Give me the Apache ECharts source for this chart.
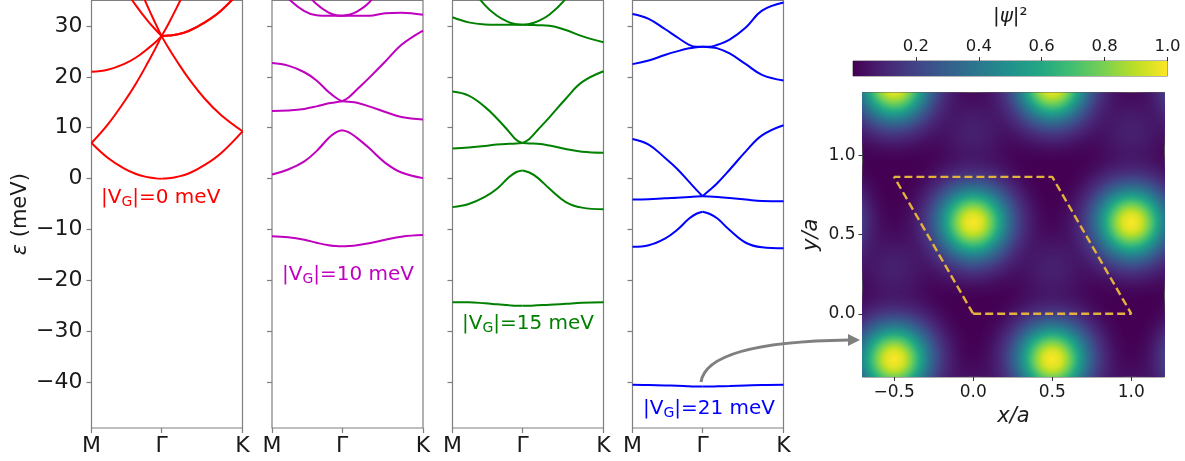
<!DOCTYPE html>
<html>
<head>
<meta charset="utf-8">
<script src="https://cdn.jsdelivr.net/npm/echarts@6/dist/echarts.min.js"></script>
<style>
  html, body { margin: 0; padding: 0; background: #ffffff; }
  #chart { width: 1185px; height: 461px; }
</style>
</head>
<body>
<div id="chart"></div>
<script>
// ---- band structure along M–Γ–K (|ΓK| = 1, |ΓM| = √3/2) ----
const kPath = [0, 0.2, 0.4, 0.55, 0.7, 0.79, 0.866, 0.95, 1.05, 1.2, 1.4, 1.6, 1.866];
const gammaIndex = 6;
const kTicks = [0, 0.866, 1.866];
const kTickLabels = ['M', 'Γ', 'K'];
const energyTicks = [-40, -30, -20, -10, 0, 10, 20, 30];
const energyRange = [-49, 35];

// energies in meV, one row per band, sampled on kPath
const bandsV0 = [
  [7.0, 4.1, 2.0, 0.9, 0.26, 0.05, 0, 0.07, 0.32, 1.0, 2.7, 5.0, 9.3],
  [7.0, 10.6, 15.0, 18.7, 22.9, 25.6, 28.0, 25.7, 23.2, 19.7, 15.7, 12.5, 9.3],
  [21.0, 21.4, 22.5, 23.8, 25.6, 26.8, 28.0, 28.1, 28.3, 29.0, 30.7, 33.0, 37.3],
  [49.0, 42.9, 37.5, 34.0, 30.9, 29.3, 28.0, 30.4, 33.5, 38.4, 45.6, 56.0, 65.3],
  [63.0, 53.7, 45.1, 39.1, 33.6, 30.5, 28.0, 28.1, 28.3, 29.0, 30.7, 33.0, 37.3]
];
const bandsV10 = [
  [-11.3, -11.5, -12.0, -12.6, -13.1, -13.25, -13.3, -13.25, -13.1, -12.7, -12.0, -11.4, -11.1],
  [0.8, 1.8, 3.4, 5.4, 8.0, 9.1, 9.5, 9.1, 8.0, 6.0, 3.1, 1.2, 0.1],
  [13.3, 13.4, 13.7, 14.2, 14.8, 15.0, 15.2, 15.1, 14.9, 14.2, 13.1, 12.1, 11.6],
  [22.7, 22.2, 20.9, 19.3, 17.0, 15.9, 15.2, 16.0, 17.5, 19.8, 23.0, 26.3, 29.1],
  [39.0, 35.4, 32.9, 32.1, 32.0, 32.0, 32.0, 32.0, 32.0, 32.0, 32.5, 32.6, 32.2],
  [49.0, 42.2, 37.0, 34.3, 32.6, 32.1, 32.0, 32.2, 32.8, 34.6, 38.6, 44.4, 55.0]
];
const bandsV15 = [
  [-24.3, -24.3, -24.5, -24.7, -24.9, -25.0, -25.0, -25.0, -24.9, -24.8, -24.6, -24.4, -24.3],
  [-5.6, -5.0, -3.6, -2.0, 0.3, 1.3, 1.6, 1.2, 0.2, -2.0, -4.6, -5.7, -6.0],
  [5.9, 6.1, 6.4, 6.7, 6.85, 6.9, 7.0, 6.9, 6.85, 6.5, 5.8, 5.3, 5.1],
  [17.1, 16.3, 14.1, 11.8, 9.2, 7.6, 7.0, 7.8, 9.5, 12.1, 15.7, 18.95, 21.1],
  [31.7, 30.7, 30.3, 30.25, 30.25, 30.25, 30.25, 30.2, 30.15, 30.05, 29.2, 28.0, 26.8],
  [43.7, 38.2, 34.1, 32.0, 30.7, 30.35, 30.25, 30.4, 30.9, 32.25, 35.35, 39.9, 48.0]
];
const bandsV21 = [
  [-40.5, -40.55, -40.65, -40.7, -40.8, -40.85, -40.85, -40.85, -40.8, -40.75, -40.65, -40.55, -40.5],
  [-13.4, -13.1, -11.8, -10.1, -7.85, -6.9, -6.5, -6.9, -7.85, -10.1, -12.6, -13.5, -13.7],
  [-4.1, -4.05, -3.85, -3.75, -3.6, -3.5, -3.45, -3.5, -3.6, -3.8, -4.1, -4.4, -4.45],
  [7.8, 6.7, 4.1, 1.95, -0.65, -2.2, -3.45, -2.3, -0.85, 1.75, 5.35, 8.5, 10.5],
  [22.5, 23.2, 24.3, 25.0, 25.6, 25.8, 25.9, 25.8, 25.6, 24.6, 22.5, 20.4, 19.3],
  [32.35, 31.4, 29.4, 27.8, 26.3, 25.9, 25.9, 25.9, 26.3, 27.3, 29.7, 33.0, 34.6]
];
const panelBands = [bandsV0, bandsV10, bandsV15, bandsV21];
const potentialValues = ['0', '10', '15', '21'];

// ---- |ψ|² of the lowest state: density maxima [x/a, y/a, |ψ|²] ----
const sitePeaks = [
  [-1, 0.577, 1.0], [0, 0.577, 1.0], [1, 0.577, 1.0],
  [-0.5, -0.289, 1.0], [0.5, -0.289, 1.0], [1.5, -0.289, 1.0],
  [-0.5, 1.443, 1.0], [0.5, 1.443, 1.0], [1.5, 1.443, 1.0]
];
const hollowPeaks = [
  [-0.5, 0.289, 0.12], [0.5, 0.289, 0.12], [1.5, 0.289, 0.12],
  [-1, 1.155, 0.12], [0, 1.155, 0.12], [1, 1.155, 0.12],
  [0, -0.577, 0.12], [1, -0.577, 0.12]
];
const unitCell = [[0, 0], [1, 0], [0.5, 0.866], [-0.5, 0.866], [0, 0]];
const mapXRange = [-0.7, 1.21];
const mapYRange = [-0.4, 1.4];
const mapXTicks = [-0.5, 0, 0.5, 1.0];
const mapYTicks = [0, 0.5, 1.0];
const colorbarRange = [0, 1];
const colorbarTicks = [0.2, 0.4, 0.6, 0.8, 1.0];

// ---- styling ----
const FONT = 'DejaVu Sans';
const TEXT = '#1a1a1a';
const SPINE = '#7f7f7f';
const panelColors = ['#ff0000', '#bf00bf', '#008000', '#0000ff'];
const panelLefts = [91.5, 272, 452.5, 632.5];
const panelLabelPos = [[101, 188], [282, 265], [462, 314], [643, 399]];
const SITE_SIGMA = 0.16;
const HOLLOW_SIGMA = 0.15;

const viridisHex = ['#440154', '#482475', '#414487', '#355f8d', '#2a788e', '#21918c',
  '#22a884', '#44bf70', '#7ad151', '#bddf26', '#fde725'];
function hexRgb(h) {
  return [parseInt(h.slice(1, 3), 16), parseInt(h.slice(3, 5), 16), parseInt(h.slice(5, 7), 16)];
}
function viridis(v, alpha) {
  const t = Math.max(0, Math.min(1, v)) * 10;
  const i = Math.min(9, Math.floor(t));
  const f = t - i;
  const a = hexRgb(viridisHex[i]), b = hexRgb(viridisHex[i + 1]);
  const c = a.map((x, j) => Math.round(x + (b[j] - x) * f));
  return 'rgba(' + c[0] + ',' + c[1] + ',' + c[2] + ',' + (alpha == null ? 1 : alpha) + ')';
}
const gaussLevels = [1, 0.95, 0.9, 0.8, 0.7, 0.6, 0.5, 0.4, 0.3, 0.2, 0.15, 0.1, 0.06, 0.03, 0.011];
function levelOffset(lv) { return Math.min(1, Math.sqrt(-2 * Math.log(lv)) / 3); }
// opaque Gaussian bump over the dark background, drawn out to 3σ
function siteFill(peak) {
  const stops = gaussLevels.map(lv => {
    const v = peak * lv;
    return { offset: levelOffset(lv), color: viridis(v, Math.min(1, v / 0.04)) };
  });
  stops.push({ offset: 1, color: 'rgba(68,1,84,0)' });
  return new echarts.graphic.RadialGradient(0.5, 0.5, 0.5, stops);
}
// faint glow laid over the map: constant tint, Gaussian opacity
function hollowFill(peak) {
  const stops = gaussLevels.map(lv => ({ offset: levelOffset(lv), color: viridis(peak, 0.75 * lv) }));
  stops.push({ offset: 1, color: viridis(peak, 0) });
  return new echarts.graphic.RadialGradient(0.5, 0.5, 0.5, stops);
}
function minus(s) { return String(s).replace('-', '\u2212'); }

const grids = [], xAxes = [], yAxes = [], series = [];

panelBands.forEach((bands, p) => {
  grids.push({ left: panelLefts[p], top: 0.5, width: 151, height: 427.5, show: true,
    borderColor: SPINE, borderWidth: 1.2, backgroundColor: 'transparent' });
  xAxes.push({
    gridIndex: p, type: 'value', min: kPath[0], max: kPath[kPath.length - 1],
    axisLine: { show: false, onZero: false }, splitLine: { show: false },
    axisTick: { show: true, customValues: kTicks, length: 5, lineStyle: { color: SPINE, width: 1.2 } },
    axisLabel: {
      show: true, customValues: kTicks, margin: 7, fontSize: 22, fontFamily: FONT, color: TEXT,
      formatter: v => {
        let best = 0;
        kTicks.forEach((t, i) => { if (Math.abs(t - v) < Math.abs(kTicks[best] - v)) best = i; });
        return kTickLabels[best];
      }
    }
  });
  yAxes.push({
    gridIndex: p, type: 'value', min: energyRange[0], max: energyRange[1],
    axisLine: { show: false, onZero: false }, splitLine: { show: false },
    axisTick: { show: true, customValues: energyTicks, length: 5, lineStyle: { color: SPINE, width: 1.2 } },
    axisLabel: { show: p === 0, customValues: energyTicks, margin: 9, fontSize: 22,
      fontFamily: FONT, color: TEXT, formatter: v => minus(v) },
    name: p === 0 ? '{i|ε} (meV)' : '', nameLocation: 'middle', nameGap: 60,
    nameTextStyle: { fontSize: 21, fontFamily: FONT, color: TEXT,
      rich: { i: { fontSize: 21, fontFamily: FONT, fontStyle: 'italic', color: TEXT } } }
  });
  bands.forEach(band => {
    const halves = [
      kPath.slice(0, gammaIndex + 1).map((k, i) => [k, band[i]]),
      kPath.slice(gammaIndex).map((k, i) => [k, band[gammaIndex + i]])
    ];
    halves.forEach(data => series.push({
      type: 'line', xAxisIndex: p, yAxisIndex: p, data, smooth: 0.4,
      symbol: 'none', clip: true, silent: true,
      lineStyle: { color: panelColors[p], width: 2 }
    }));
  });
});

// density map panel
const MAP = 4;
grids.push({ left: 862.5, top: 92.5, width: 302, height: 284.5, show: true,
  backgroundColor: '#440154', borderColor: '#5a5a5a', borderWidth: 1 });
xAxes.push({
  gridIndex: MAP, type: 'value', min: mapXRange[0], max: mapXRange[1],
  axisLine: { show: false, onZero: false }, splitLine: { show: false },
  axisTick: { show: true, customValues: mapXTicks, length: 4, lineStyle: { color: '#333' } },
  axisLabel: { customValues: mapXTicks, margin: 7, fontSize: 17, fontFamily: FONT, color: TEXT,
    formatter: v => minus(v.toFixed(1)) },
  name: 'x/a', nameLocation: 'middle', nameGap: 29,
  nameTextStyle: { fontSize: 21, fontStyle: 'italic', fontFamily: FONT, color: TEXT }
});
yAxes.push({
  gridIndex: MAP, type: 'value', min: mapYRange[0], max: mapYRange[1],
  axisLine: { show: false, onZero: false }, splitLine: { show: false },
  axisTick: { show: true, customValues: mapYTicks, length: 4, lineStyle: { color: '#333' } },
  axisLabel: { customValues: mapYTicks, margin: 7, fontSize: 17, fontFamily: FONT, color: TEXT,
    formatter: v => minus(v.toFixed(1)) },
  name: 'y/a', nameLocation: 'middle', nameGap: 40,
  nameTextStyle: { fontSize: 21, fontStyle: 'italic', fontFamily: FONT, color: TEXT }
});
function bumpRenderer(sigma, fillFor) {
  return function (params, api) {
    const c = api.coord([api.value(0), api.value(1)]);
    const r = api.size([3 * sigma, 0])[0];
    return { type: 'circle', shape: { cx: c[0], cy: c[1], r },
      style: { fill: fillFor(api.value(2)) } };
  };
}
series.push({ type: 'custom', xAxisIndex: MAP, yAxisIndex: MAP, clip: true, silent: true,
  renderItem: bumpRenderer(SITE_SIGMA, siteFill), data: sitePeaks, z: 2 });
series.push({ type: 'custom', xAxisIndex: MAP, yAxisIndex: MAP, clip: true, silent: true,
  renderItem: bumpRenderer(HOLLOW_SIGMA, hollowFill), data: hollowPeaks, z: 3 });
series.push({ type: 'line', xAxisIndex: MAP, yAxisIndex: MAP, data: unitCell, symbol: 'none',
  silent: true, z: 5, lineStyle: { color: '#e3b23c', width: 2.4, type: [8, 4] } });

// colour bar
const CB = 5;
grids.push({ left: 853, top: 61, width: 314.5, height: 15, show: true,
  borderColor: '#444', borderWidth: 0.8, backgroundColor: 'transparent' });
xAxes.push({
  gridIndex: CB, type: 'value', position: 'top', min: colorbarRange[0], max: colorbarRange[1],
  axisLine: { show: false, onZero: false }, splitLine: { show: false },
  axisTick: { show: true, customValues: colorbarTicks, length: 4, lineStyle: { color: '#333' } },
  axisLabel: { customValues: colorbarTicks, margin: 6, fontSize: 16.5, fontFamily: FONT, color: TEXT,
    formatter: v => v.toFixed(1) },
  name: '|{i|ψ}|²', nameLocation: 'middle', nameGap: 34,
  nameTextStyle: { fontSize: 20, fontFamily: FONT, color: TEXT,
    rich: { i: { fontSize: 20, fontStyle: 'italic', fontFamily: FONT, color: TEXT } } }
});
yAxes.push({ gridIndex: CB, type: 'value', min: 0, max: 1, show: false });
series.push({
  type: 'custom', xAxisIndex: CB, yAxisIndex: CB, silent: true, data: [colorbarRange],
  renderItem: (params, api) => {
    const a = api.coord([api.value(0), 0]);
    const b = api.coord([api.value(1), 1]);
    const stops = viridisHex.map((c, i) => ({ offset: i / 10, color: c }));
    return { type: 'rect', shape: { x: a[0], y: b[1], width: b[0] - a[0], height: a[1] - b[1] },
      style: { fill: new echarts.graphic.LinearGradient(0, 0, 1, 0, stops) } };
  }
});

// panel annotations and the pointer from the lowest band to its density map
const graphics = potentialValues.map((v, p) => ({
  type: 'text', left: panelLabelPos[p][0], top: panelLabelPos[p][1], z: 20,
  style: {
    text: '|V{g|G}|=' + v + ' meV', fill: panelColors[p], fontSize: 20, fontFamily: FONT,
    rich: { g: { fontSize: 14, fontFamily: FONT, fill: panelColors[p], padding: [8, 0, 0, 0] } }
  }
}));
graphics.push({ type: 'bezierCurve', z: 20,
  shape: { x1: 701, y1: 382, cpx1: 707, cpy1: 342, x2: 849, y2: 340 },
  style: { stroke: '#808080', lineWidth: 3, fill: null } });
graphics.push({ type: 'polygon', z: 20,
  shape: { points: [[860, 340], [848, 334], [848, 346]] }, style: { fill: '#808080' } });

const chart = echarts.init(document.getElementById('chart'), null, { renderer: 'canvas' });
chart.setOption({
  animation: false,
  backgroundColor: '#ffffff',
  grid: grids, xAxis: xAxes, yAxis: yAxes, series, graphic: graphics
});
</script>
</body>
</html>
